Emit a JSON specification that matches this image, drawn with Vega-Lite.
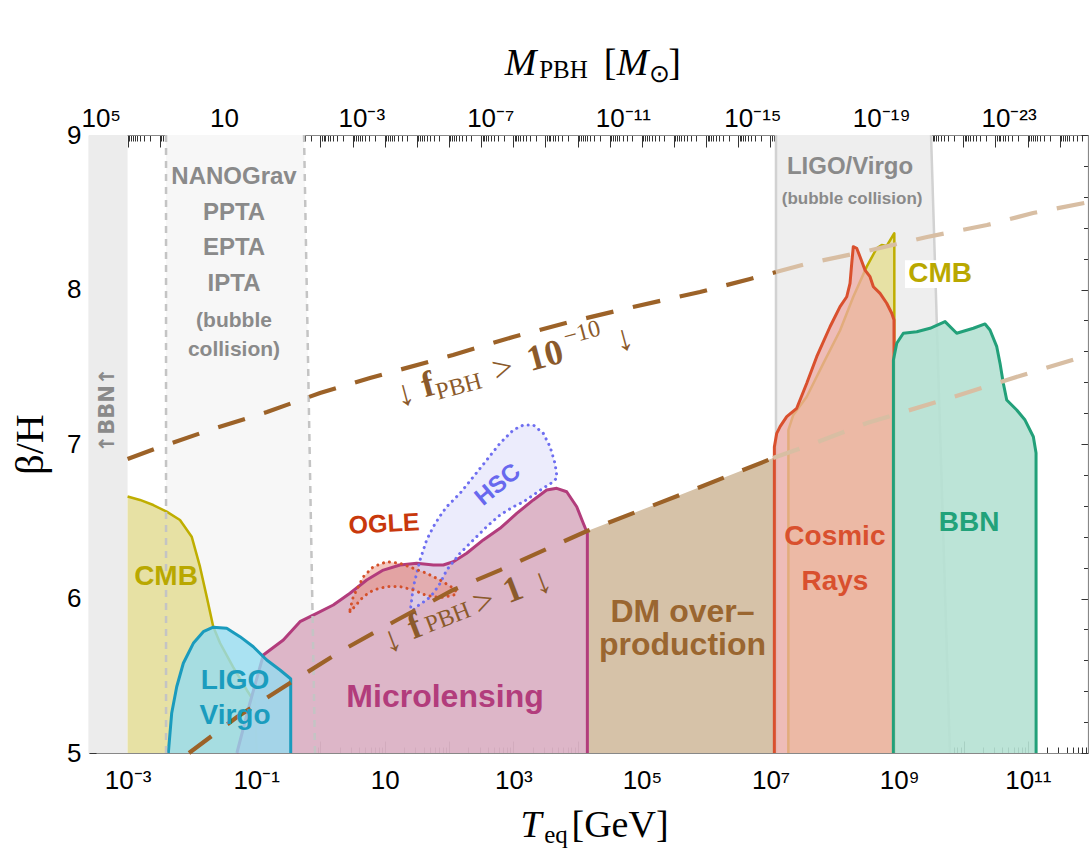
{
"$schema": "https://vega.github.io/schema/vega-lite/v6.json",
"width": 999,
"height": 618,
"autosize": {"type": "none"},
"padding": {"left": 89, "top": 135, "right": 1, "bottom": 95},
"background": "white",
"config": {"view": {"stroke": null}, "axis": {"grid": false}},
"datasets": {
"mdum": [{"M": 1e5}, {"M": 1e-23}],
"bands": [
{"band":"bbn","b":5,"x1":2.512e-4,"x2":1e-3},
{"band":"bbn","b":9,"x1":2.512e-4,"x2":1e-3},
{"band":"nano","b":5,"x1":3.963e-3,"x2":0.822},
{"band":"nano","b":9,"x1":3.963e-3,"x2":0.5546},
{"band":"gw","b":5,"x1":1.213e7,"x2":6.166e9},
{"band":"gw","b":9,"x1":1.213e7,"x2":3.126e9}
],
"edges": [
{"kind":"dash","x1":3.963e-3,"x2":3.963e-3,"b1":5,"b2":9},
{"kind":"dash","x1":0.822,"x2":0.5546,"b1":5,"b2":9},
{"kind":"solid","x1":1.213e7,"x2":1.213e7,"b1":5,"b2":9},
{"kind":"solid","x1":6.166e9,"x2":3.126e9,"b1":5,"b2":9}
],
"box": [{"x1":1.23e9,"x2":1.51e10,"b1":8.01,"b2":8.19}],
"cmbL": [
{"T":1e-3,"b":6.66},{"T":1.56e-3,"b":6.638},{"T":2.51e-3,"b":6.605},{"T":4.05e-3,"b":6.562},{"T":6.53e-3,"b":6.508},{"T":9.93e-3,"b":6.4},{"T":1.336e-2,"b":6.206},{"T":1.7e-2,"b":6.012},{"T":2.15e-2,"b":5.817},{"T":2.74e-2,"b":5.712},{"T":4.36e-2,"b":5.557},{"T":7.13e-2,"b":5.408},{"T":9.59e-2,"b":5.324},{"T":0.1019,"b":5}
],
"micro": [
{"T":5.01e-2,"b":5},{"T":7.94e-2,"b":5.32},{"T":0.1291,"b":5.634},{"T":0.2642,"b":5.731},{"T":0.4797,"b":5.85},{"T":0.873,"b":5.904},{"T":1.581,"b":5.958},{"T":2.877,"b":6.034},{"T":5.236,"b":6.12},{"T":9.485,"b":6.184},{"T":17.26,"b":6.217},{"T":31.33,"b":6.228},{"T":56.89,"b":6.217},{"T":81.28,"b":6.217},{"T":116.4,"b":6.238},{"T":187.9,"b":6.293},{"T":340.4,"b":6.379},{"T":619.4,"b":6.454},{"T":1127,"b":6.551},{"T":2042,"b":6.638},{"T":3296,"b":6.702},{"T":4721,"b":6.713},{"T":6745,"b":6.691},{"T":9660,"b":6.594},{"T":12220,"b":6.487},{"T":14130,"b":6.422},{"T":14140,"b":5}
],
"ligo": [
{"T":4.3e-3,"b":5},{"T":4.85e-3,"b":5.257},{"T":5.81e-3,"b":5.429},{"T":7.36e-3,"b":5.581},{"T":1.052e-2,"b":5.71},{"T":1.507e-2,"b":5.785},{"T":2.15e-2,"b":5.814},{"T":3.48e-2,"b":5.807},{"T":5.6e-2,"b":5.753},{"T":9.02e-2,"b":5.688},{"T":0.1459,"b":5.602},{"T":0.2344,"b":5.537},{"T":0.3357,"b":5.484},{"T":0.3443,"b":5.48},{"T":0.3444,"b":5}
],
"dm": [
{"T":14130,"b":6.437},{"T":3.899e5,"b":6.67},{"T":1.091e7,"b":6.909},{"T":1.143e7,"b":6.92}
],
"cr": [
{"T":1.143e7,"b":5},{"T":1.144e7,"b":6.981},{"T":1.245e7,"b":7.069},{"T":1.403e7,"b":7.112},{"T":1.782e7,"b":7.177},{"T":2.547e7,"b":7.231},{"T":3.648e7,"b":7.393},{"T":5.212e7,"b":7.565},{"T":8.395e7,"b":7.759},{"T":1.202e8,"b":7.889},{"T":1.528e8,"b":7.953},{"T":1.718e8,"b":8.04},{"T":1.828e8,"b":8.17},{"T":1.932e8,"b":8.277},{"T":2.183e8,"b":8.267},{"T":2.46e8,"b":8.212},{"T":2.938e8,"b":8.126},{"T":3.516e8,"b":8.083},{"T":3.963e8,"b":8.018},{"T":5.035e8,"b":7.975},{"T":6.397e8,"b":7.911},{"T":7.656e8,"b":7.846},{"T":8.299e8,"b":7.803},{"T":8.308e8,"b":5}
],
"cmbR": [
{"T":1.888e7,"b":5},{"T":1.892e7,"b":7.091},{"T":2.254e7,"b":7.188},{"T":3.648e7,"b":7.306},{"T":6.607e7,"b":7.522},{"T":1.202e8,"b":7.735},{"T":1.932e8,"b":7.953},{"T":3.126e8,"b":8.148},{"T":4.467e8,"b":8.267},{"T":5.346e8,"b":8.288},{"T":6.397e8,"b":8.282},{"T":8.395e8,"b":8.364},{"T":8.405e8,"b":5}
],
"bbn": [
{"T":8.11e8,"b":5},{"T":8.128e8,"b":7.544},{"T":9.162e8,"b":7.652},{"T":1.159e9,"b":7.717},{"T":1.875e9,"b":7.727},{"T":3.013e9,"b":7.749},{"T":5.164e9,"b":7.792},{"T":7.834e9,"b":7.717},{"T":1.422e10,"b":7.749},{"T":2.163e10,"b":7.777},{"T":2.582e10,"b":7.738},{"T":3.289e10,"b":7.63},{"T":3.698e10,"b":7.522},{"T":4.159e10,"b":7.393},{"T":4.699e10,"b":7.285},{"T":6.73e10,"b":7.22},{"T":9.057e10,"b":7.155},{"T":1.219e11,"b":7.047},{"T":1.343e11,"b":6.942},{"T":1.346e11,"b":5}
],
"ogle": [
{"T":2.877,"top":5.926,"bot":5.913},{"T":3.236,"top":6.012,"bot":5.937},{"T":4.634,"top":6.141,"bot":6.012},{"T":6.637,"top":6.206,"bot":6.055},{"T":10.72,"top":6.238,"bot":6.077},{"T":17.26,"top":6.228,"bot":6.077},{"T":27.8,"top":6.195,"bot":6.055},{"T":44.87,"top":6.163,"bot":6.019},{"T":72.28,"top":6.12,"bot":6.006},{"T":116.4,"top":6.067,"bot":6.019},{"T":132.7,"top":6.041,"bot":6.041}
],
"hsc": [
{"T":24.66,"top":5.906,"bot":5.906},{"T":27.8,"top":6.076,"bot":5.926},{"T":35.32,"top":6.249,"bot":5.964},{"T":44.87,"top":6.379,"bot":5.99},{"T":56.89,"top":6.465,"bot":6.034},{"T":72.28,"top":6.534,"bot":6.098},{"T":91.83,"top":6.594,"bot":6.184},{"T":147.9,"top":6.681,"bot":6.293},{"T":238.2,"top":6.788,"bot":6.379},{"T":384.6,"top":6.896,"bot":6.465},{"T":619.4,"top":7.005,"bot":6.54},{"T":997.7,"top":7.091,"bot":6.594},{"T":1426,"top":7.123,"bot":6.625},{"T":2042,"top":7.123,"bot":6.67},{"T":2917,"top":7.069,"bot":6.715},{"T":3715,"top":6.983,"bot":6.741},{"T":4436,"top":6.875,"bot":6.767},{"T":4764,"top":6.786,"bot":6.786}
],
"flines": [
{"T":9.016e-3,"b":5,"seg":"ld"},{"T":5.035e-2,"b":5.233,"seg":"ld"},{"T":0.3357,"b":5.453,"seg":"ld"},{"T":2.239,"b":5.667,"seg":"ld"},{"T":15.49,"b":5.861,"seg":"ld"},{"T":115.1,"b":6.055,"seg":"ld"},{"T":619.4,"b":6.184,"seg":"ld"},{"T":5309,"b":6.359,"seg":"ld"},{"T":13960,"b":6.437,"seg":"ld"},{"T":3.899e5,"b":6.67,"seg":"ld"},{"T":1.091e7,"b":6.909,"seg":"ld"},
{"T":1.091e7,"b":6.909,"seg":"ll"},{"T":4.102e7,"b":6.994,"seg":"ll"},{"T":3.162e8,"b":7.136,"seg":"ll"},{"T":6.871e9,"b":7.304,"seg":"ll"},{"T":8.433e10,"b":7.447,"seg":"ll"},{"T":8.63e11,"b":7.575,"seg":"ll"},
{"T":1e-3,"b":6.903,"seg":"ud"},{"T":2.871e-3,"b":6.974,"seg":"ud"},{"T":1.914e-2,"b":7.091,"seg":"ud"},{"T":0.1472,"b":7.207,"seg":"ud"},{"T":0.984,"b":7.33,"seg":"ud"},{"T":5.888,"b":7.427,"seg":"ud"},{"T":115.1,"b":7.576,"seg":"ud"},{"T":986.3,"b":7.693,"seg":"ud"},{"T":7603,"b":7.79,"seg":"ud"},{"T":72440,"b":7.887,"seg":"ud"},{"T":7.98e5,"b":7.984,"seg":"ud"},{"T":4.786e6,"b":8.068,"seg":"ud"},{"T":1.213e7,"b":8.113,"seg":"ud"},
{"T":1.213e7,"b":8.113,"seg":"ul"},{"T":4.102e7,"b":8.172,"seg":"ul"},{"T":2.735e8,"b":8.243,"seg":"ul"},{"T":2.71e9,"b":8.34,"seg":"ul"},{"T":2.323e10,"b":8.417,"seg":"ul"},{"T":1.205e11,"b":8.495,"seg":"ul"},{"T":8.63e11,"b":8.565,"seg":"ul"}
],
"texts": [
{"T":3.96e-3,"b":6.139,"text":"CMB","kind":"reg28","g":"CMB"},
{"T":4.69e-2,"b":5.466,"text":"LIGO","kind":"reg28","g":"LIGO"},
{"T":4.69e-2,"b":5.239,"text":"Virgo","kind":"reg28","g":"LIGO"},
{"T":1.0e8,"b":6.398,"text":"Cosmic","kind":"reg28","g":"CR"},
{"T":1.0e8,"b":6.107,"text":"Rays","kind":"reg28","g":"CR"},
{"T":1.219e10,"b":6.489,"text":"BBN","kind":"reg28","g":"BBN"},
{"T":4.315e9,"b":8.1,"text":"CMB","kind":"reg28","g":"CMB"},
{"T":86.5,"b":5.362,"text":"Microlensing","kind":"reg30","g":"Micro"},
{"T":4.266e5,"b":5.913,"text":"DM over–","kind":"reg30","g":"DM"},
{"T":4.266e5,"b":5.699,"text":"production","kind":"reg30","g":"DM"},
{"T":9.727,"b":6.482,"text":"OGLE","kind":"ogle"},
{"T":576.8,"b":6.735,"text":"HSC","kind":"hsc"},
{"T":4.52e-2,"b":8.728,"text":"NANOGrav","kind":"grayA"},
{"T":4.52e-2,"b":8.492,"text":"PPTA","kind":"grayA"},
{"T":4.52e-2,"b":8.269,"text":"EPTA","kind":"grayA"},
{"T":4.52e-2,"b":8.036,"text":"IPTA","kind":"grayA"},
{"T":4.52e-2,"b":7.796,"text":"(bubble","kind":"grayB"},
{"T":4.52e-2,"b":7.608,"text":"collision)","kind":"grayB"},
{"T":1.718e8,"b":8.793,"text":"LIGO/Virgo","kind":"grayA"},
{"T":1.85e8,"b":8.586,"text":"(bubble collision)","kind":"grayD"},
{"T":4.955e-4,"b":7.22,"text":"↑BBN↑","kind":"bbnv"},
{"T":20.61,"b":7.324,"text":"↓","kind":"fn_u"},
{"T":46.99,"b":7.382,"text":"f","kind":"fb_u"},
{"T":142.6,"b":7.369,"text":"PBH","kind":"fs_u"},
{"T":690.2,"b":7.485,"text":">","kind":"fn_u"},
{"T":3105,"b":7.57,"text":"10","kind":"fb_u"},
{"T":11670,"b":7.718,"text":"−10","kind":"fs_u"},
{"T":52480,"b":7.68,"text":"↓","kind":"fn_u"},
{"T":12.94,"b":5.731,"text":"↓","kind":"fn_l"},
{"T":29.51,"b":5.816,"text":"f","kind":"fb_l"},
{"T":96.16,"b":5.874,"text":"PBH","kind":"fs_l"},
{"T":349.1,"b":5.977,"text":">","kind":"fn_l"},
{"T":986.3,"b":6.055,"text":"1","kind":"fb_l"},
{"T":2786,"b":6.107,"text":"↓","kind":"fn_l"},
{"T":1291,"b":9.388,"text":"M","kind":"ti"},
{"T":6012,"b":9.369,"text":"PBH","kind":"ts"},
{"T":31840,"b":9.388,"text":"[","kind":"tn"},
{"T":71290,"b":9.388,"text":"M","kind":"ti"},
{"T":1.871e5,"b":9.343,"text":"⊙","kind":"ts"},
{"T":3.206e5,"b":9.388,"text":"]","kind":"tn"},
{"T":1879,"b":4.456,"text":"T","kind":"ti"},
{"T":4603,"b":4.415,"text":"eq","kind":"ts"},
{"T":45500,"b":4.456,"text":"[GeV]","kind":"tn"}
]
},
"resolve": {"scale": {"x": "independent"}},
"layer": [
{
"data": {"name": "mdum"},
"mark": {"type": "point", "opacity": 0},
"encoding": {
"x": {"field": "M", "type": "quantitative",
"scale": {"type": "log", "domain": [1.318e-26, 158489.3], "reverse": true, "nice": false},
"axis": {"orient": "top", "title": null, "grid": false, "tickCount": 400,
"labelExpr": "abs(log(datum.value)/LN10-round(log(datum.value)/LN10))<1e-6 && (round(log(datum.value)/LN10)-1)%4==0 ? (round(log(datum.value)/LN10)==1 ? '10' : '10'+(round(log(datum.value)/LN10)<0?'⁻':'')+(abs(round(log(datum.value)/LN10))>=10?substring('⁰¹²³⁴⁵⁶⁷⁸⁹',floor(abs(round(log(datum.value)/LN10))/10),floor(abs(round(log(datum.value)/LN10))/10)+1):'')+substring('⁰¹²³⁴⁵⁶⁷⁸⁹',abs(round(log(datum.value)/LN10))%10,abs(round(log(datum.value)/LN10))%10+1)) : ''",
"labelOverlap": false, "labelFlush": false, "labelBound": false, "labelAlign": "left", "labelOffset": -14.5,
"labelFont": "Liberation Sans", "labelFontSize": 26, "labelColor": "#000", "labelPadding": 16,
"tickColor": "#333", "tickWidth": 1,
"tickSize": {"condition": {"test": "abs(log(datum.value)/LN10-round(log(datum.value)/LN10))<1e-6", "value": -12}, "value": -6},
"domainColor": "#888", "domainWidth": 1.2}
}
}
},
{
"resolve": {"axis": {"x": "independent", "y": "independent"}, "scale": {"color": "independent"}},
"layer": [
{
"data": {"name": "bands"},
"mark": {"type": "area", "orient": "horizontal"},
"encoding": {
"y": {"field": "b", "type": "quantitative", "scale": {"domain": [5, 9], "nice": false, "zero": false},
"axis": {"orient": "left", "title": "β/H", "values": [5,5.2,5.4,5.6,5.8,6,6.2,6.4,6.6,6.8,7,7.2,7.4,7.6,7.8,8,8.2,8.4,8.6,8.8,9],
"labelExpr": "abs(datum.value-round(datum.value))<1e-6 ? format(datum.value,'d') : ''",
"tickSize": {"condition": {"test": "abs(datum.value-round(datum.value))<1e-6", "value": -7}, "value": -4.5},
"labelPadding": 15, "labelFont": "Liberation Sans", "labelFontSize": 26, "labelColor": "#000", "labelFlush": false, "labelOverlap": false,
"tickColor": "#333", "domainColor": "#888", "domainWidth": 1.2, "grid": false,
"titleFont": "Liberation Serif", "titleFontSize": 40, "titleFontWeight": "normal", "titleColor": "#000", "titlePadding": 16}},
"x": {"field": "x1", "type": "quantitative", "scale": {"type": "log", "domain": [2.512e-4, 8.63e11], "nice": false},
"axis": {"orient": "bottom", "title": null, "grid": false, "tickCount": 200,
"labelExpr": "abs(log(datum.value)/LN10-round(log(datum.value)/LN10))<1e-6 && abs(round(log(datum.value)/LN10))%2==1 ? (round(log(datum.value)/LN10)==1 ? '10' : '10'+(round(log(datum.value)/LN10)<0?'⁻':'')+(abs(round(log(datum.value)/LN10))>=10?substring('⁰¹²³⁴⁵⁶⁷⁸⁹',floor(abs(round(log(datum.value)/LN10))/10),floor(abs(round(log(datum.value)/LN10))/10)+1):'')+substring('⁰¹²³⁴⁵⁶⁷⁸⁹',abs(round(log(datum.value)/LN10))%10,abs(round(log(datum.value)/LN10))%10+1)) : ''",
"labelOverlap": false, "labelFlush": false, "labelBound": false,
"labelFont": "Liberation Sans", "labelFontSize": 26, "labelColor": "#000", "labelPadding": 26,
"tickColor": "#333", "tickWidth": 1,
"tickSize": {"condition": {"test": "abs(log(datum.value)/LN10-round(log(datum.value)/LN10))<1e-6", "value": -12}, "value": -6},
"domainColor": "#888", "domainWidth": 1.2}},
"x2": {"field": "x2"},
"color": {"field": "band", "type": "nominal", "scale": {"domain": ["bbn","nano","gw"], "range": ["#ececec","#f7f7f7","#eeeeee"]}, "legend": null}
}
},
{
"data": {"name": "edges"},
"transform": [{"filter": "datum.kind == 'solid'"}],
"mark": {"type": "rule", "color": "#d2d2d2", "strokeWidth": 2.5},
"encoding": {"x": {"field": "x1", "type": "quantitative", "axis": null}, "x2": {"field": "x2"}, "y": {"field": "b1", "type": "quantitative", "axis": null}, "y2": {"field": "b2"}}
},
{
"data": {"name": "dm"},
"mark": {"type": "area", "color": "#d6c2a8"},
"encoding": {"x": {"field": "T", "type": "quantitative", "axis": null}, "y": {"field": "b", "type": "quantitative", "axis": null}, "y2": {"datum": 5}}
},
{
"data": {"name": "cmbL"},
"mark": {"type": "area", "color": "#e7e1a4"},
"encoding": {"x": {"field": "T", "type": "quantitative", "axis": null}, "y": {"field": "b", "type": "quantitative", "axis": null}, "y2": {"datum": 5}}
},
{
"data": {"name": "cmbL"},
"mark": {"type": "line", "color": "#bfae00", "strokeWidth": 2.5, "strokeJoin": "round"},
"encoding": {"x": {"field": "T", "type": "quantitative", "axis": null}, "y": {"field": "b", "type": "quantitative", "axis": null}}
},
{
"data": {"name": "micro"},
"mark": {"type": "area", "color": "#dbb2c5", "opacity": 0.95},
"encoding": {"x": {"field": "T", "type": "quantitative", "axis": null}, "y": {"field": "b", "type": "quantitative", "axis": null}, "y2": {"datum": 5}}
},
{
"data": {"name": "hsc"},
"mark": {"type": "area", "color": "#dcdcfa", "opacity": 0.55},
"encoding": {"x": {"field": "T", "type": "quantitative", "axis": null}, "y": {"field": "top", "type": "quantitative", "axis": null}, "y2": {"field": "bot"}}
},
{
"data": {"name": "ogle"},
"mark": {"type": "area", "color": "#e9907e", "opacity": 0.5},
"encoding": {"x": {"field": "T", "type": "quantitative", "axis": null}, "y": {"field": "top", "type": "quantitative", "axis": null}, "y2": {"field": "bot"}}
},
{
"data": {"name": "micro"},
"mark": {"type": "line", "color": "#b23c7c", "strokeWidth": 3, "strokeJoin": "round"},
"encoding": {"x": {"field": "T", "type": "quantitative", "axis": null}, "y": {"field": "b", "type": "quantitative", "axis": null}}
},
{
"data": {"name": "hsc"},
"mark": {"type": "area", "fillOpacity": 0, "stroke": "#6e6ef0", "strokeWidth": 3, "strokeDash": [0.1, 6], "strokeCap": "round"},
"encoding": {"x": {"field": "T", "type": "quantitative", "axis": null}, "y": {"field": "top", "type": "quantitative", "axis": null}, "y2": {"field": "bot"}}
},
{
"data": {"name": "ogle"},
"mark": {"type": "area", "fillOpacity": 0, "stroke": "#d4502a", "strokeWidth": 3, "strokeDash": [0.1, 6], "strokeCap": "round"},
"encoding": {"x": {"field": "T", "type": "quantitative", "axis": null}, "y": {"field": "top", "type": "quantitative", "axis": null}, "y2": {"field": "bot"}}
},
{
"data": {"name": "ligo"},
"mark": {"type": "area", "color": "#96dcf0", "opacity": 0.8},
"encoding": {"x": {"field": "T", "type": "quantitative", "axis": null}, "y": {"field": "b", "type": "quantitative", "axis": null}, "y2": {"datum": 5}}
},
{
"data": {"name": "ligo"},
"mark": {"type": "line", "color": "#1a9bbd", "strokeWidth": 3, "strokeJoin": "round"},
"encoding": {"x": {"field": "T", "type": "quantitative", "axis": null}, "y": {"field": "b", "type": "quantitative", "axis": null}}
},
{
"data": {"name": "cmbR"},
"mark": {"type": "area", "color": "#e7e1a4"},
"encoding": {"x": {"field": "T", "type": "quantitative", "axis": null}, "y": {"field": "b", "type": "quantitative", "axis": null}, "y2": {"datum": 5}}
},
{
"data": {"name": "cmbR"},
"mark": {"type": "line", "color": "#bfae00", "strokeWidth": 2.5, "strokeJoin": "round"},
"encoding": {"x": {"field": "T", "type": "quantitative", "axis": null}, "y": {"field": "b", "type": "quantitative", "axis": null}}
},
{
"data": {"name": "cr"},
"mark": {"type": "area", "color": "#edaba5", "opacity": 0.75},
"encoding": {"x": {"field": "T", "type": "quantitative", "axis": null}, "y": {"field": "b", "type": "quantitative", "axis": null}, "y2": {"datum": 5}}
},
{
"data": {"name": "cr"},
"mark": {"type": "line", "color": "#d9502e", "strokeWidth": 3, "strokeJoin": "round"},
"encoding": {"x": {"field": "T", "type": "quantitative", "axis": null}, "y": {"field": "b", "type": "quantitative", "axis": null}}
},
{
"data": {"name": "bbn"},
"mark": {"type": "area", "color": "#b5e1d3", "opacity": 0.9},
"encoding": {"x": {"field": "T", "type": "quantitative", "axis": null}, "y": {"field": "b", "type": "quantitative", "axis": null}, "y2": {"datum": 5}}
},
{
"data": {"name": "bbn"},
"mark": {"type": "line", "color": "#22a079", "strokeWidth": 3, "strokeJoin": "round"},
"encoding": {"x": {"field": "T", "type": "quantitative", "axis": null}, "y": {"field": "b", "type": "quantitative", "axis": null}}
},
{
"data": {"name": "box"},
"mark": {"type": "rect", "color": "#ffffff"},
"encoding": {"x": {"field": "x1", "type": "quantitative", "axis": null}, "x2": {"field": "x2"}, "y": {"field": "b1", "type": "quantitative", "axis": null}, "y2": {"field": "b2"}}
},
{
"data": {"name": "edges"},
"transform": [{"filter": "datum.kind == 'dash'"}],
"mark": {"type": "rule", "color": "#c4c4c4", "strokeWidth": 2.5, "strokeDash": [7, 6]},
"encoding": {"x": {"field": "x1", "type": "quantitative", "axis": null}, "x2": {"field": "x2"}, "y": {"field": "b1", "type": "quantitative", "axis": null}, "y2": {"field": "b2"}}
},
{
"data": {"name": "flines"},
"mark": {"type": "line", "strokeWidth": 4.2, "strokeDash": [28, 20]},
"encoding": {"x": {"field": "T", "type": "quantitative", "axis": null},
"y": {"field": "b", "type": "quantitative",
"axis": {"orient": "right", "title": null, "labels": false, "values": [5,5.2,5.4,5.6,5.8,6,6.2,6.4,6.6,6.8,7,7.2,7.4,7.6,7.8,8,8.2,8.4,8.6,8.8,9],
"tickSize": {"condition": {"test": "abs(datum.value-round(datum.value))<1e-6", "value": -7}, "value": -4.5},
"tickColor": "#333", "domainColor": "#888", "domainWidth": 1.2, "grid": false}},
"color": {"field": "seg", "type": "nominal", "scale": {"domain": ["ud","ul","ld","ll"], "range": ["#9c6228","#d8bea3","#9c6228","#d8bea3"]}, "legend": null}}
},
{
"data": {"name": "texts"}, "transform": [{"filter": "datum.kind == 'reg28'"}],
"mark": {"type": "text", "font": "Liberation Sans", "fontWeight": "bold", "fontSize": 28, "align": "center", "baseline": "middle"},
"encoding": {"x": {"field": "T", "type": "quantitative", "axis": null}, "y": {"field": "b", "type": "quantitative", "axis": null}, "text": {"field": "text"},
"color": {"field": "g", "type": "nominal", "scale": {"domain": ["CMB","LIGO","CR","BBN"], "range": ["#b9a800","#1a9cbe","#d9502e","#22a27a"]}, "legend": null}}
},
{
"data": {"name": "texts"}, "transform": [{"filter": "datum.kind == 'reg30'"}],
"mark": {"type": "text", "font": "Liberation Sans", "fontWeight": "bold", "fontSize": 32, "align": "center", "baseline": "middle"},
"encoding": {"x": {"field": "T", "type": "quantitative", "axis": null}, "y": {"field": "b", "type": "quantitative", "axis": null}, "text": {"field": "text"},
"color": {"field": "g", "type": "nominal", "scale": {"domain": ["Micro","DM"], "range": ["#b23c7c","#9a6630"]}, "legend": null}}
},
{
"data": {"name": "texts"}, "transform": [{"filter": "datum.kind == 'ogle'"}],
"mark": {"type": "text", "font": "Liberation Sans", "fontWeight": "bold", "fontSize": 25, "align": "center", "baseline": "middle", "angle": 357, "color": "#c8380c"},
"encoding": {"x": {"field": "T", "type": "quantitative", "axis": null}, "y": {"field": "b", "type": "quantitative", "axis": null}, "text": {"field": "text"}}
},
{
"data": {"name": "texts"}, "transform": [{"filter": "datum.kind == 'hsc'"}],
"mark": {"type": "text", "font": "Liberation Sans", "fontWeight": "bold", "fontSize": 24, "align": "center", "baseline": "middle", "angle": 320, "color": "#6868ee"},
"encoding": {"x": {"field": "T", "type": "quantitative", "axis": null}, "y": {"field": "b", "type": "quantitative", "axis": null}, "text": {"field": "text"}}
},
{
"data": {"name": "texts"}, "transform": [{"filter": "datum.kind == 'grayA'"}],
"mark": {"type": "text", "font": "Liberation Sans", "fontWeight": "bold", "fontSize": 24, "align": "center", "baseline": "middle", "color": "#8a8a8a"},
"encoding": {"x": {"field": "T", "type": "quantitative", "axis": null}, "y": {"field": "b", "type": "quantitative", "axis": null}, "text": {"field": "text"}}
},
{
"data": {"name": "texts"}, "transform": [{"filter": "datum.kind == 'grayB'"}],
"mark": {"type": "text", "font": "Liberation Sans", "fontWeight": "bold", "fontSize": 21, "align": "center", "baseline": "middle", "color": "#8a8a8a"},
"encoding": {"x": {"field": "T", "type": "quantitative", "axis": null}, "y": {"field": "b", "type": "quantitative", "axis": null}, "text": {"field": "text"}}
},
{
"data": {"name": "texts"}, "transform": [{"filter": "datum.kind == 'grayD'"}],
"mark": {"type": "text", "font": "Liberation Sans", "fontWeight": "bold", "fontSize": 17, "align": "center", "baseline": "middle", "color": "#8a8a8a"},
"encoding": {"x": {"field": "T", "type": "quantitative", "axis": null}, "y": {"field": "b", "type": "quantitative", "axis": null}, "text": {"field": "text"}}
},
{
"data": {"name": "texts"}, "transform": [{"filter": "datum.kind == 'bbnv'"}],
"mark": {"type": "text", "font": "DejaVu Sans", "fontWeight": "bold", "fontSize": 21, "align": "center", "baseline": "middle", "angle": 270, "color": "#8a8a8a"},
"encoding": {"x": {"field": "T", "type": "quantitative", "axis": null}, "y": {"field": "b", "type": "quantitative", "axis": null}, "text": {"field": "text"}}
},
{
"data": {"name": "texts"}, "transform": [{"filter": "datum.kind == 'fn_u'"}],
"mark": {"type": "text", "font": "Liberation Serif", "fontSize": 36, "align": "center", "baseline": "middle", "angle": 345, "color": "#8b5a2b"},
"encoding": {"x": {"field": "T", "type": "quantitative", "axis": null}, "y": {"field": "b", "type": "quantitative", "axis": null}, "text": {"field": "text"}}
},
{
"data": {"name": "texts"}, "transform": [{"filter": "datum.kind == 'fb_u'"}],
"mark": {"type": "text", "font": "Liberation Serif", "fontWeight": "bold", "fontSize": 36, "align": "center", "baseline": "middle", "angle": 345, "color": "#8b5a2b"},
"encoding": {"x": {"field": "T", "type": "quantitative", "axis": null}, "y": {"field": "b", "type": "quantitative", "axis": null}, "text": {"field": "text"}}
},
{
"data": {"name": "texts"}, "transform": [{"filter": "datum.kind == 'fs_u'"}],
"mark": {"type": "text", "font": "Liberation Serif", "fontSize": 24, "align": "center", "baseline": "middle", "angle": 345, "color": "#8b5a2b"},
"encoding": {"x": {"field": "T", "type": "quantitative", "axis": null}, "y": {"field": "b", "type": "quantitative", "axis": null}, "text": {"field": "text"}}
},
{
"data": {"name": "texts"}, "transform": [{"filter": "datum.kind == 'fn_l'"}],
"mark": {"type": "text", "font": "Liberation Serif", "fontSize": 36, "align": "center", "baseline": "middle", "angle": 339, "color": "#8b5a2b"},
"encoding": {"x": {"field": "T", "type": "quantitative", "axis": null}, "y": {"field": "b", "type": "quantitative", "axis": null}, "text": {"field": "text"}}
},
{
"data": {"name": "texts"}, "transform": [{"filter": "datum.kind == 'fb_l'"}],
"mark": {"type": "text", "font": "Liberation Serif", "fontWeight": "bold", "fontSize": 36, "align": "center", "baseline": "middle", "angle": 339, "color": "#8b5a2b"},
"encoding": {"x": {"field": "T", "type": "quantitative", "axis": null}, "y": {"field": "b", "type": "quantitative", "axis": null}, "text": {"field": "text"}}
},
{
"data": {"name": "texts"}, "transform": [{"filter": "datum.kind == 'fs_l'"}],
"mark": {"type": "text", "font": "Liberation Serif", "fontSize": 24, "align": "center", "baseline": "middle", "angle": 339, "color": "#8b5a2b"},
"encoding": {"x": {"field": "T", "type": "quantitative", "axis": null}, "y": {"field": "b", "type": "quantitative", "axis": null}, "text": {"field": "text"}}
},
{
"data": {"name": "texts"}, "transform": [{"filter": "datum.kind == 'ti'"}],
"mark": {"type": "text", "font": "Liberation Serif", "fontStyle": "italic", "fontSize": 38, "align": "center", "baseline": "alphabetic", "color": "#000"},
"encoding": {"x": {"field": "T", "type": "quantitative", "axis": null}, "y": {"field": "b", "type": "quantitative", "axis": null}, "text": {"field": "text"}}
},
{
"data": {"name": "texts"}, "transform": [{"filter": "datum.kind == 'tn'"}],
"mark": {"type": "text", "font": "Liberation Serif", "fontSize": 38, "align": "center", "baseline": "alphabetic", "color": "#000"},
"encoding": {"x": {"field": "T", "type": "quantitative", "axis": null}, "y": {"field": "b", "type": "quantitative", "axis": null}, "text": {"field": "text"}}
},
{
"data": {"name": "texts"}, "transform": [{"filter": "datum.kind == 'ts'"}],
"mark": {"type": "text", "font": "Liberation Serif", "fontSize": 25, "align": "center", "baseline": "alphabetic", "color": "#000"},
"encoding": {"x": {"field": "T", "type": "quantitative", "axis": null}, "y": {"field": "b", "type": "quantitative", "axis": null}, "text": {"field": "text"}}
}
]
}
]
}
